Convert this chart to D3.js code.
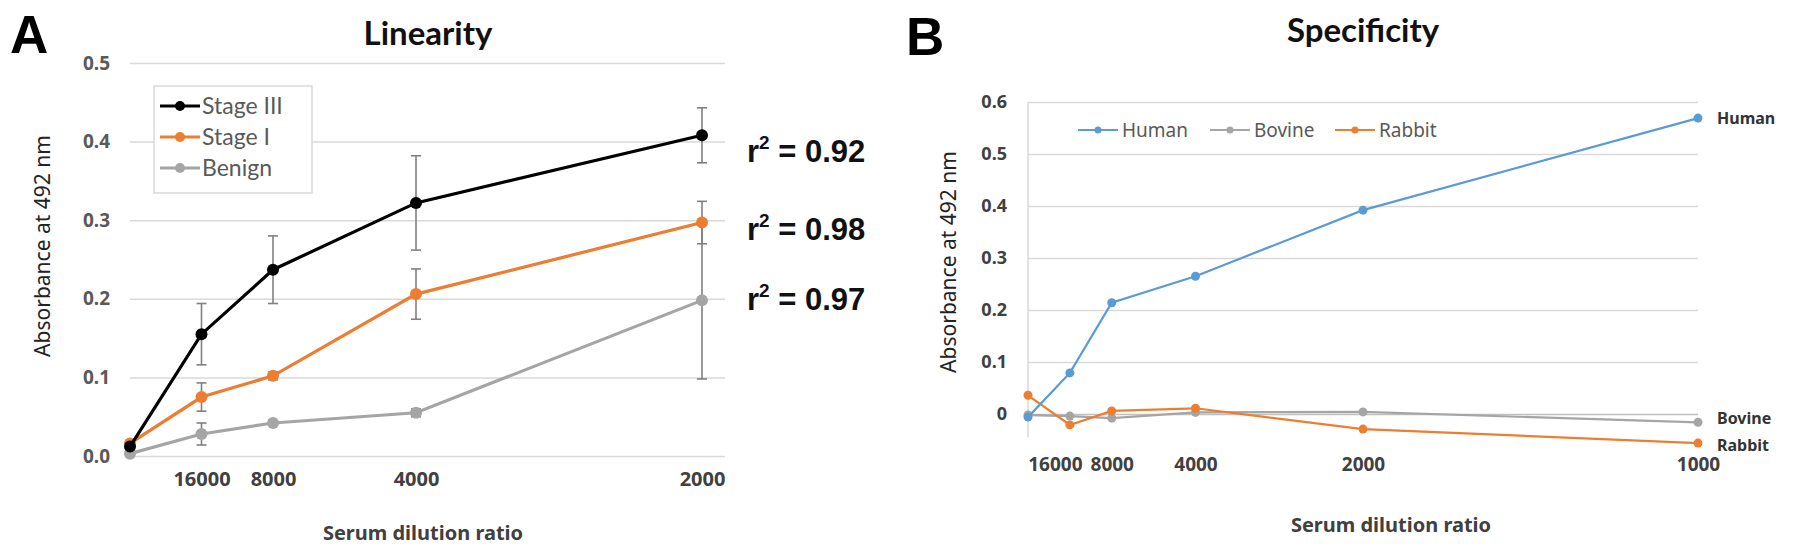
<!DOCTYPE html>
<html>
<head>
<meta charset="utf-8">
<script src="https://cdn.jsdelivr.net/npm/d3@7"></script>
<style>
  html, body { margin: 0; padding: 0; background: #fff; }
  svg { display: block; }
  .lbl { font-family: "Noto Sans", sans-serif; }
</style>
</head>
<body>
<svg id="fig" width="1795" height="554"></svg>
<script>
// ---- data: panel A (Linearity) ----
var dilutionsA = [Infinity, 16000, 8000, 4000, 2000];   // Infinity = blank (no serum)
var tickLabelsA = ["16000", "8000", "4000", "2000"];
var stageIII    = [0.012, 0.155, 0.237, 0.322, 0.408];
var stageIIIErr = [0, 0.039, 0.043, 0.060, 0.035];
var stageI      = [0.016, 0.075, 0.102, 0.206, 0.297];
var stageIErr   = [0, 0.018, 0.005, 0.032, 0.027];
var benign      = [0.003, 0.028, 0.042, 0.055, 0.198];
var benignErr   = [0, 0.014, 0.003, 0.005, 0.100];
var r2Labels    = ["0.92", "0.98", "0.97"];
var yTicksA     = [0, 0.1, 0.2, 0.3, 0.4, 0.5];

// ---- data: panel B (Specificity) ----
var dilutionsB = [Infinity, 16000, 8000, 4000, 2000, 1000];
var tickLabelsB = ["16000", "8000", "4000", "2000", "1000"];
var human  = [-0.006, 0.079, 0.214, 0.265, 0.392, 0.569];
var bovine = [-0.002, -0.004, -0.008, 0.003, 0.004, -0.016];
var rabbit = [0.036, -0.021, 0.006, 0.011, -0.029, -0.056];
var yTicksB = [0, 0.1, 0.2, 0.3, 0.4, 0.5, 0.6];

var svg = d3.select("#fig");

// dilution ratio -> concentration (1/ratio), blank = 0
function conc(d) { return isFinite(d) ? 1 / d : 0; }

// ================= Panel A =================
(function(){
  var x = d3.scaleLinear().domain([0, 1/2000]).range([130, 702]);
  var y = d3.scaleLinear().domain([0, 0.5]).range([456, 63]);
  var g = svg.append("g");

  // 网格线 + y 刻度
  var ya = g.append("g").attr("transform", "translate(130,0)")
    .call(d3.axisLeft(y).tickValues(yTicksA).tickSize(-595).tickPadding(20).tickFormat(d3.format(".1f")));
  ya.select(".domain").remove();
  ya.selectAll("line").attr("stroke", "#d9d9d9").attr("stroke-width", 1.5);
  ya.selectAll("text").attr("class", "lbl").attr("font-size", 19).attr("font-weight", "bold").attr("fill", "#595959");

  // x 刻度
  var xa = g.append("g").attr("transform", "translate(0,456)")
    .call(d3.axisBottom(x).tickValues(dilutionsA.slice(1).map(conc)).tickSize(0).tickPadding(16)
      .tickFormat(function(d, i){ return tickLabelsA[i]; }));
  xa.select(".domain").remove();
  xa.selectAll("text").attr("class", "lbl").attr("font-size", 20).attr("font-weight", "bold").attr("fill", "#404040");

  var series = [
    {name: "Stage III", v: stageIII, e: stageIIIErr, c: "#000000"},
    {name: "Stage I",   v: stageI,   e: stageIErr,   c: "#ED7D31"},
    {name: "Benign",    v: benign,   e: benignErr,   c: "#A5A5A5"}
  ];

  // 误差线
  series.slice().reverse().forEach(function(s){
    dilutionsA.forEach(function(d, i){
      if (!s.e[i]) return;
      var cx = x(conc(d)), t = y(s.v[i] + s.e[i]), b = y(s.v[i] - s.e[i]);
      var eg = g.append("g").attr("stroke", "#808080").attr("stroke-width", 1.6);
      eg.append("line").attr("x1", cx).attr("x2", cx).attr("y1", t).attr("y2", b);
      eg.append("line").attr("x1", cx - 5).attr("x2", cx + 5).attr("y1", t).attr("y2", t);
      eg.append("line").attr("x1", cx - 5).attr("x2", cx + 5).attr("y1", b).attr("y2", b);
    });
  });

  var line = d3.line().x(function(d){ return x(conc(d[0])); }).y(function(d){ return y(d[1]); });
  series.slice().reverse().forEach(function(s){
    var pts = d3.zip(dilutionsA, s.v);
    g.append("path").attr("d", line(pts)).attr("fill", "none").attr("stroke", s.c).attr("stroke-width", 3.2);
    g.selectAll(null).data(pts).enter().append("circle")
      .attr("cx", function(d){ return x(conc(d[0])); }).attr("cy", function(d){ return y(d[1]); })
      .attr("r", 6).attr("fill", s.c);
  });

  // 图例
  var lg = g.append("g");
  lg.append("rect").attr("x", 154).attr("y", 86).attr("width", 158).attr("height", 107)
    .attr("fill", "#fff").attr("stroke", "#d9d9d9").attr("stroke-width", 1.5);
  series.forEach(function(s, i){
    var ly = 106 + i * 31;
    lg.append("line").attr("x1", 160).attr("x2", 200).attr("y1", ly).attr("y2", ly).attr("stroke", s.c).attr("stroke-width", 3);
    lg.append("circle").attr("cx", 180).attr("cy", ly).attr("r", 5).attr("fill", s.c);
    lg.append("text").attr("x", 202).attr("y", ly).attr("dy", "0.35em").attr("font-family", "Lato, sans-serif")
      .attr("font-size", 23).attr("fill", "#595959").text(s.name);
  });

  // r^2 标注
  var r2y = [162, 240, 310];
  r2Labels.forEach(function(t, i){
    var tx = g.append("text").attr("x", 747).attr("y", r2y[i]).attr("font-family", "'Liberation Sans', Arial, sans-serif")
      .attr("font-weight", "bold").attr("font-size", 31).attr("fill", "#111");
    tx.append("tspan").text("r");
    tx.append("tspan").attr("font-size", 19).attr("dy", -13).text("2");
    tx.append("tspan").attr("dy", 13).text(" = " + t);
  });

  // 标题、轴标题
  g.append("text").attr("x", 428).attr("y", 45).attr("text-anchor", "middle").attr("font-family", "Lato, sans-serif")
    .attr("font-weight", "bold").attr("font-size", 33).attr("fill", "#111").text("Linearity");
  g.append("text").attr("x", 10).attr("y", 53).attr("font-family", "'Liberation Sans', Arial, sans-serif")
    .attr("font-weight", "bold").attr("font-size", 53).attr("fill", "#000").text("A");
  g.append("text").attr("class", "lbl").attr("x", 423).attr("y", 540).attr("text-anchor", "middle")
    .attr("font-size", 20).attr("font-weight", "bold").attr("fill", "#404040").text("Serum dilution ratio");
  g.append("text").attr("class", "lbl").attr("transform", "translate(50,246) rotate(-90)").attr("text-anchor", "middle")
    .attr("font-size", 21).attr("fill", "#222").text("Absorbance at 492  nm");
})();

// ================= Panel B =================
(function(){
  var x = d3.scaleLinear().domain([0, 1/1000]).range([1028, 1698]);
  var y = d3.scaleLinear().domain([0, 0.6]).range([414, 102]);
  var g = svg.append("g");

  var ya = g.append("g").attr("transform", "translate(1028,0)")
    .call(d3.axisLeft(y).tickValues(yTicksB).tickSize(-670).tickPadding(21)
      .tickFormat(function(d){ return d === 0 ? "0" : d3.format(".1f")(d); }));
  ya.select(".domain").remove();
  ya.selectAll("line").attr("stroke", function(d){ return d === 0 ? "#c0c0c0" : "#d9d9d9"; }).attr("stroke-width", 1.5);
  ya.selectAll("text").attr("class", "lbl").attr("font-size", 18).attr("font-weight", "bold").attr("fill", "#404040");

  // 纵轴线
  g.append("line").attr("x1", 1028).attr("x2", 1028).attr("y1", y(0.6)).attr("y2", y(-0.045))
    .attr("stroke", "#d9d9d9").attr("stroke-width", 1.5);

  var xa = g.append("g").attr("transform", "translate(0,414)")
    .call(d3.axisBottom(x).tickValues(dilutionsB.slice(1).map(conc)).tickSize(0).tickPadding(44)
      .tickFormat(function(d, i){ return tickLabelsB[i]; }));
  xa.select(".domain").remove();
  xa.selectAll("text").attr("class", "lbl").attr("font-size", 19).attr("font-weight", "bold").attr("fill", "#404040")
    .attr("dx", function(d, i){ return i === 0 ? -15 : 0; });

  var series = [
    {name: "Human",  v: human,  c: "#5B9BD5"},
    {name: "Bovine", v: bovine, c: "#A5A5A5"},
    {name: "Rabbit", v: rabbit, c: "#ED7D31"}
  ];

  var line = d3.line().x(function(d){ return x(conc(d[0])); }).y(function(d){ return y(d[1]); });
  [1, 2, 0].forEach(function(k){
    var s = series[k], pts = d3.zip(dilutionsB, s.v);
    g.append("path").attr("d", line(pts)).attr("fill", "none").attr("stroke", s.c).attr("stroke-width", 2.2);
    g.selectAll(null).data(pts).enter().append("circle")
      .attr("cx", function(d){ return x(conc(d[0])); }).attr("cy", function(d){ return y(d[1]); })
      .attr("r", 4.5).attr("fill", s.c);
  });

  // 末端标签
  var endDy = [0, -4, 2];
  series.forEach(function(s, i){
    var last = s.v[s.v.length - 1];
    g.append("text").attr("class", "lbl").attr("x", 1717).attr("y", y(last) + endDy[i]).attr("dy", "0.35em")
      .attr("font-size", 16).attr("font-weight", "bold").attr("fill", "#333").text(s.name);
  });

  // 图例
  var lx = [1078, 1210, 1335];
  series.forEach(function(s, i){
    g.append("line").attr("x1", lx[i]).attr("x2", lx[i] + 40).attr("y1", 130).attr("y2", 130).attr("stroke", s.c).attr("stroke-width", 2.2);
    g.append("circle").attr("cx", lx[i] + 20).attr("cy", 130).attr("r", 3.5).attr("fill", s.c);
    g.append("text").attr("class", "lbl").attr("x", lx[i] + 44).attr("y", 130).attr("dy", "0.35em")
      .attr("font-size", 19).attr("fill", "#595959").text(s.name);
  });

  g.append("text").attr("x", 1363).attr("y", 42).attr("text-anchor", "middle").attr("font-family", "Lato, sans-serif")
    .attr("font-weight", "bold").attr("font-size", 33).attr("fill", "#111").text("Specificity");
  g.append("text").attr("x", 906).attr("y", 55).attr("font-family", "'Liberation Sans', Arial, sans-serif")
    .attr("font-weight", "bold").attr("font-size", 53).attr("fill", "#000").text("B");
  g.append("text").attr("class", "lbl").attr("x", 1391).attr("y", 532).attr("text-anchor", "middle")
    .attr("font-size", 20).attr("font-weight", "bold").attr("fill", "#404040").text("Serum dilution ratio");
  g.append("text").attr("class", "lbl").attr("transform", "translate(956,262) rotate(-90)").attr("text-anchor", "middle")
    .attr("font-size", 21).attr("fill", "#222").text("Absorbance at 492  nm");
})();
</script>
</body>
</html>
